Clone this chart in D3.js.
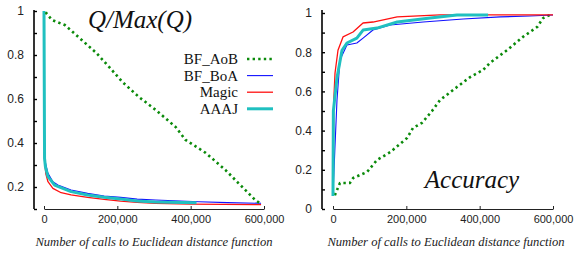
<!DOCTYPE html>
<html>
<head>
<meta charset="utf-8">
<script src="https://cdn.jsdelivr.net/npm/d3@7"></script>
<style>
  body { margin: 0; background: #fff; }
  .tick text { font-family: "Liberation Sans", Arial, sans-serif; fill: #222; }
</style>
</head>
<body>
<script>
// chart size
var svgWidth = 574;
var svgHeight = 255;

// ---- data: left panel, Q/Max(Q) ----
var qAobX = [5000, 8000, 22000, 57000, 97000, 143000, 178000, 214000, 259000, 305000, 359000, 386000, 441000, 495000, 530000, 576000, 592000];
var qAobY = [0.995, 0.986, 0.959, 0.936, 0.877, 0.809, 0.745, 0.677, 0.609, 0.55, 0.473, 0.414, 0.355, 0.277, 0.218, 0.141, 0.123];

var qBoaX = [0, 1000, 4000, 10800, 24300, 37800, 73800, 119000, 164000, 209000, 254000, 304000, 422000, 500000, 592000];
var qBoaY = [1, 0.4, 0.31, 0.262, 0.224, 0.209, 0.186, 0.171, 0.159, 0.153, 0.145, 0.141, 0.133, 0.129, 0.126];

var qMagicX = [0, 2000, 5000, 10800, 24300, 46800, 73800, 119000, 164000, 209000, 254000, 304000, 400000, 592000];
var qMagicY = [0.36, 0.31, 0.26, 0.224, 0.194, 0.174, 0.164, 0.153, 0.144, 0.136, 0.130, 0.126, 0.122, 0.12];

var qAaajX = [0, 1500, 4000, 10800, 28900, 73800, 119000, 164000, 209000, 254000, 304000, 416000];
var qAaajY = [1, 0.33, 0.29, 0.247, 0.209, 0.179, 0.164, 0.153, 0.145, 0.136, 0.132, 0.128];

// ---- data: right panel, Accuracy ----
var accAobX = [5000, 19000, 46000, 55000, 93000, 120000, 156000, 202000, 218000, 243000, 270000, 292000, 338000, 374000, 409000, 428000, 475000, 518000, 557000, 573000, 592000];
var accAobY = [0.07, 0.133, 0.133, 0.158, 0.189, 0.25, 0.29, 0.362, 0.413, 0.44, 0.5, 0.556, 0.622, 0.673, 0.709, 0.745, 0.811, 0.878, 0.929, 0.974, 0.99];

var accBoaX = [0, 5000, 10900, 19000, 38000, 65000, 82000, 109000, 156000, 246000, 355000, 456000, 537000, 600000];
var accBoaY = [0.07, 0.3, 0.556, 0.76, 0.837, 0.847, 0.872, 0.913, 0.939, 0.954, 0.969, 0.98, 0.985, 0.99];

var accMagicX = [0, 2000, 5500, 13600, 27300, 54600, 81900, 109000, 175000, 292000, 600000];
var accMagicY = [0.1, 0.55, 0.694, 0.81, 0.878, 0.903, 0.949, 0.954, 0.98, 0.99, 0.99];

var accAaajX = [0, 1000, 10900, 24600, 38000, 65000, 82000, 120000, 175000, 265000, 338000, 423000];
var accAaajY = [0.066, 0.5, 0.67, 0.81, 0.847, 0.872, 0.913, 0.923, 0.954, 0.974, 0.99, 0.99];

// legend + ticks
var seriesNames = ["BF_AoB", "BF_BoA", "Magic", "AAAJ"];
var xTicks = [0, 200000, 400000, 600000];
var qTicks = [0.1, 0.2, 0.3, 0.4, 0.5, 0.6, 0.7, 0.8, 0.9, 1];
var accTicks = [0, 0.1, 0.2, 0.3, 0.4, 0.5, 0.6, 0.7, 0.8, 0.9, 1];

// styles per series
var styles = {
  "BF_AoB": { color: "#0a8a0a", width: 2.6, dash: "2.4,3.2" },
  "BF_BoA": { color: "#1010ff", width: 1.1, dash: null },
  "Magic":  { color: "#ff1010", width: 1.3, dash: null },
  "AAAJ":   { color: "#20c0c0", width: 3, dash: null }
};

var svg = d3.select("body")
  .append("svg")
  .attr("width", svgWidth)
  .attr("height", svgHeight);

function zip(xs, ys) {
  return xs.map((x, i) => [x, ys[i]]);
}

function drawPanel(opt) {
  var x = d3.scaleLinear().domain([0, 600000]).range(opt.xRange);
  var y = d3.scaleLinear().domain(opt.yDomain).range(opt.yRange);

  var line = d3.line()
    .x(d => x(d[0]))
    .y(d => y(d[1]));

  // series, drawn back to front
  opt.series.forEach(function(s) {
    var st = styles[s.name];
    svg.append("path")
      .datum(zip(s.x, s.y))
      .attr("fill", "none")
      .attr("stroke", st.color)
      .attr("stroke-width", st.width)
      .attr("stroke-dasharray", st.dash)
      .attr("stroke-linejoin", "round")
      .attr("d", line);
  });

  // y axis
  var yAxis = d3.axisLeft(y)
    .tickValues(opt.yTicks)
    .tickSize(-3)
    .tickSizeOuter(0)
    .tickPadding(10)
    .tickFormat(d => (Math.round(d * 10) % 2 === 0) ? d3.format("")(+d.toFixed(1)) : "");
  var gy = svg.append("g")
    .attr("transform", `translate(${opt.yAxisX},0)`)
    .call(yAxis);
  gy.select(".domain").attr("stroke", "#000").attr("stroke-width", 1.6)
    .attr("d", `M0,${opt.yTop}V${opt.yRange[0]}`);
  gy.selectAll(".tick line").attr("stroke", "#000").attr("stroke-width", 1.4);
  gy.selectAll(".tick text").attr("font-size", "12px");

  // x axis
  var xAxis = d3.axisBottom(x)
    .tickValues(xTicks)
    .tickSize(-3)
    .tickSizeOuter(0)
    .tickPadding(6)
    .tickFormat(d3.format(","));
  var gx = svg.append("g")
    .attr("transform", `translate(0,${opt.yRange[0]})`)
    .call(xAxis);
  gx.select(".domain").attr("stroke", "#222").attr("stroke-width", 1.2);
  gx.selectAll(".tick line").attr("stroke", "#222").attr("stroke-width", 1);
  gx.selectAll(".tick text").attr("font-size", "11px");

  // axis title
  svg.append("text")
    .attr("x", opt.titleX)
    .attr("y", 246)
    .attr("text-anchor", "middle")
    .attr("font-family", "'Liberation Serif', 'Times New Roman', serif")
    .attr("font-style", "italic")
    .attr("font-size", "12.6px")
    .attr("fill", "#222")
    .text("Number of calls to Euclidean distance function");

  // panel label
  svg.append("text")
    .attr("x", opt.label.x)
    .attr("y", opt.label.y)
    .attr("text-anchor", "middle")
    .attr("font-family", "'Liberation Serif', 'Times New Roman', serif")
    .attr("font-style", "italic")
    .attr("font-size", "25px")
    .attr("fill", "#111")
    .text(opt.label.text);
}

// left panel
drawPanel({
  xRange: [44, 264],
  yDomain: [0.1, 1],
  yRange: [209, 11],
  yTop: 10,
  yAxisX: 34,
  yTicks: qTicks,
  titleX: 154,
  label: { text: "Q/Max(Q)", x: 140, y: 28 },
  series: [
    { name: "BF_BoA", x: qBoaX, y: qBoaY },
    { name: "Magic", x: qMagicX, y: qMagicY },
    { name: "AAAJ", x: qAaajX, y: qAaajY },
    { name: "BF_AoB", x: qAobX, y: qAobY }
  ]
});

// right panel
drawPanel({
  xRange: [333, 553],
  yDomain: [0, 1],
  yRange: [209, 13],
  yTop: 10,
  yAxisX: 322,
  yTicks: accTicks,
  titleX: 446,
  label: { text: "Accuracy", x: 472, y: 188 },
  series: [
    { name: "BF_AoB", x: accAobX, y: accAobY },
    { name: "BF_BoA", x: accBoaX, y: accBoaY },
    { name: "Magic", x: accMagicX, y: accMagicY },
    { name: "AAAJ", x: accAaajX, y: accAaajY }
  ]
});

// legend (left panel)
var legend = svg.append("g");
seriesNames.forEach(function(name, i) {
  var st = styles[name];
  var cy = 59 + i * 16.6;
  legend.append("text")
    .attr("x", 238)
    .attr("y", cy + 5)
    .attr("text-anchor", "end")
    .attr("font-family", "'Liberation Serif', 'Times New Roman', serif")
    .attr("font-size", "15px")
    .attr("fill", "#111")
    .text(name);
  legend.append("line")
    .attr("x1", 247).attr("x2", 273)
    .attr("y1", cy).attr("y2", cy)
    .attr("stroke", st.color)
    .attr("stroke-width", st.width)
    .attr("stroke-dasharray", st.dash);
});
</script>
</body>
</html>
